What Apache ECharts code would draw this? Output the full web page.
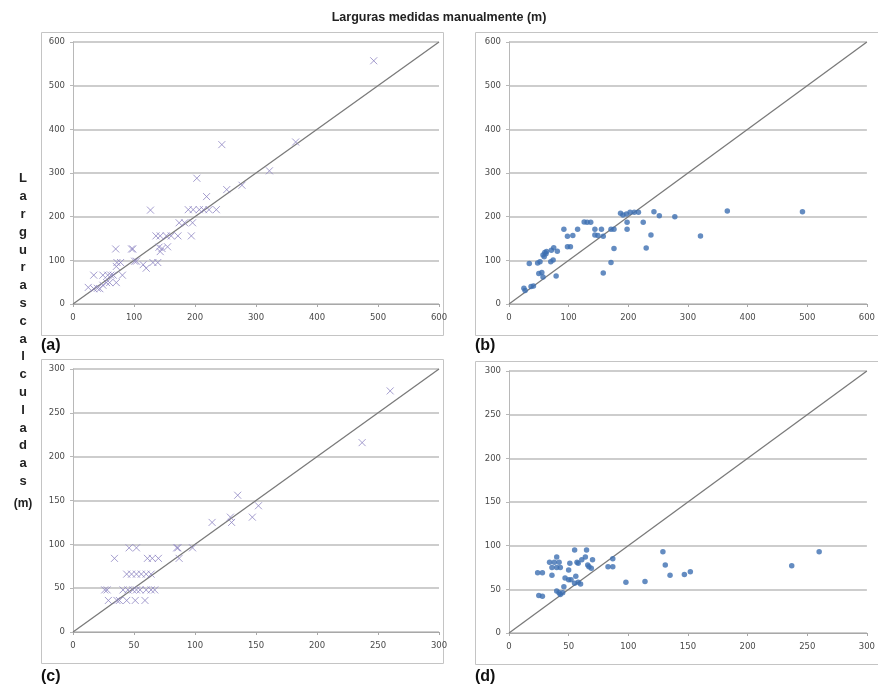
<!DOCTYPE html>
<html><head><meta charset="utf-8">
<script src="https://cdn.jsdelivr.net/npm/echarts@6/dist/echarts.min.js"></script>
<style>html,body{margin:0;padding:0;background:#fff}#c{width:878px;height:686px}</style>
</head><body><div id="c"></div>
<script>
// ---- data ----
const panelA = [[493,557],[244,365],[365,371],[322,305],[203,288],[277,272],[252,262],[219,246],[127,215],
[189,216],[197,216],[207,216],[214,216],[223,216],[235,216],
[174,186],[183,186],[196,186],
[136,156],[143,156],[153,156],[161,156],[172,156],[194,156],
[141,130],[146,127],[155,131],[143,120],
[70,126],[96,126],[98,126],
[72,95],[78,95],[71,86],[101,98],[104,98],[115,90],[120,82],[131,95],[139,95],
[34,66],[49,66],[57,66],[62,66],[66,66],[81,66],
[55,49],[60,49],[71,49],
[25,38],[34,35],[44,35],[49,43],[40,36]];
const panelB = [[492,211],[366,213],[321,156],[278,200],[252,202],[243,211],[225,187],[238,158],[230,128],
[217,210],[210,210],[203,210],[197,206],[191,204],[187,208],
[198,187],[198,171],[176,171],[176,127],[171,95],[158,71],
[171,171],[155,171],[158,155],[144,171],[144,158],[149,157],
[137,187],[131,187],[126,188],
[115,171],[107,157],[98,155],[92,171],
[98,131],[103,131],
[81,121],[75,129],[71,123],[74,101],[70,97],[79,64],
[57,112],[60,118],[63,120],[59,108],[62,115],
[52,97],[48,94],
[55,72],[50,70],[57,62],
[34,93],[41,41],[37,40],[25,36],[27,31]];
const panelC = [[260,275],[237,216],[135,156],[152,144],[147,131],[129,131],[130,125],[114,125],
[98,96],[86,96],[85,96],[87,84],[46,96],[52,96],[34,84],[61,84],[65,84],[70,84],
[44,66],[48,66],[52,66],[56,66],[60,66],[64,66],
[26,48],[28,48],[41,48],[45,48],[49,48],[52,48],[55,48],[60,48],[64,48],[67,48],
[29,36],[36,36],[38,36],[44,36],[51,36],[59,36]];
const panelD = [[260,93],[237,77],[152,70],[147,67],[135,66],[131,78],[129,93],[114,59],[98,58],
[87,85],[87,76],[83,76],[65,95],[55,95],
[40,87],[34,81],[38,81],[42,81],[36,75],[40,75],[43,75],[36,66],
[24,69],[28,69],[25,43],[28,42],
[40,48],[42,46],[43,44],[45,46],[46,53],
[50,72],[51,80],[52,61],[50,61],[47,63],[55,57],[56,65],[58,58],[60,56],
[61,84],[64,87],[67,76],[69,74],[70,84],[66,78],[57,81],[58,80]];
const diagAB = [[0,0],[600,600]];
const diagCD = [[0,0],[300,300]];
const maxAB = 600, stepAB = 100;
const maxCD = 300, stepCD = 50;
const titleText = 'Larguras medidas manualmente (m)';
const yLetters = ['L','a','r','g','u','r','a','s','c','a','l','c','u','l','a','d','a','s'];
const panelLabels = ['(a)','(b)','(c)','(d)'];

// ---- chart ----
const chart = echarts.init(document.getElementById('c'));
const grids = [
  {left:73, top:42, width:366, height:262},
  {left:509, top:42, width:366, height:262},
  {left:73, top:369, width:366, height:263},
  {left:509, top:371, width:366, height:262}
];
const lab = {fontFamily:'DejaVu Sans', fontSize:8.5, color:'#4a4a4a'};
function xa(i, max, step){return {gridIndex:i, type:'value', min:0, max:max, interval:step,
  axisLine:{show:true, lineStyle:{color:'#a8a8a8', width:1}},
  axisTick:{show:true, length:3, lineStyle:{color:'#a8a8a8'}},
  splitLine:{show:false}, axisLabel:Object.assign({margin:9}, lab)};}
function ya(i, max, step){return {gridIndex:i, type:'value', min:0, max:max, interval:step,
  axisLine:{show:true, lineStyle:{color:'#b8b8b8', width:1}},
  axisTick:{show:true, length:3, lineStyle:{color:'#b8b8b8'}},
  splitLine:{show:true, lineStyle:{color:'#bdbdbd', width:1.6}}, axisLabel:Object.assign({margin:8}, lab)};}
const crossPath = 'path://M0,0L10,10M10,0L0,10';
function crosses(i, d){return {type:'scatter', xAxisIndex:i, yAxisIndex:i, data:d, symbol:crossPath, symbolSize:7,
  itemStyle:{color:'rgba(0,0,0,0)', borderColor:'#8d85c2', borderWidth:1}, z:3};}
function dots(i, d){return {type:'scatter', xAxisIndex:i, yAxisIndex:i, data:d, symbol:'circle', symbolSize:5.5,
  itemStyle:{color:'#3d6fb2'}, z:3};}
function diag(i, d){return {type:'line', xAxisIndex:i, yAxisIndex:i, data:d, symbol:'none',
  lineStyle:{color:'#7a7a7a', width:1.3}, z:2};}

const boxes = [[41,32,402,303],[475,32,410,303],[41,359,402,304],[475,361,410,303]];
const graphic = boxes.map(b=>({type:'rect', shape:{x:b[0]+0.5,y:b[1]+0.5,width:b[2],height:b[3]},
  style:{fill:'none', stroke:'#c4c4c4', lineWidth:1}, silent:true}));
const labPos = [[41,338],[475,338],[41,669],[475,669]];
panelLabels.forEach((t,k)=>graphic.push({type:'text', left:labPos[k][0], top:labPos[k][1],
  style:{text:t, font:'bold 16px "Liberation Sans", Arial', fill:'#111'}}));
graphic.push({type:'text', left:'center', top:11, style:{text:titleText, font:'bold 12.5px "Liberation Sans", Arial', fill:'#222'}});
graphic.push({type:'text', x:23, y:170, style:{text:yLetters.join('\n'), font:'bold 13px "Liberation Sans", Arial', fill:'#222', align:'center', lineHeight:17.8}});
graphic.push({type:'text', x:23, y:498, style:{text:'(m)', font:'bold 12px "Liberation Sans", Arial', fill:'#222', align:'center'}});

chart.setOption({
  animation:false,
  grid:grids,
  xAxis:[xa(0,maxAB,stepAB), xa(1,maxAB,stepAB), xa(2,maxCD,stepCD), xa(3,maxCD,stepCD)],
  yAxis:[ya(0,maxAB,stepAB), ya(1,maxAB,stepAB), ya(2,maxCD,stepCD), ya(3,maxCD,stepCD)],
  series:[diag(0,diagAB), crosses(0,panelA), diag(1,diagAB), dots(1,panelB),
          diag(2,diagCD), crosses(2,panelC), diag(3,diagCD), dots(3,panelD)],
  graphic:graphic
});
</script></body></html>
